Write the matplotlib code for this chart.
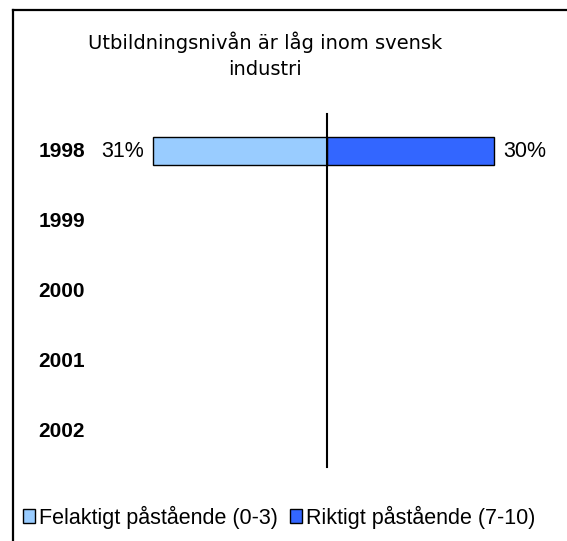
import matplotlib
matplotlib.use("Agg")
import matplotlib.pyplot as plt
from matplotlib.lines import Line2D
from matplotlib.patches import Patch

years = ["1998", "1999", "2000", "2001", "2002"]
wrong = [31.0, None, None, None, None]   # Felaktigt påstående (0-3)
right = [29.8, None, None, None, None]   # Riktigt påstående (7-10)
wrong_labels = ["31%", "", "", "", ""]
right_labels = ["30%", "", "", "", ""]

LIGHT = "#99CCFF"
DARK = "#3366FF"
W, H = 567, 541

fig = plt.figure(figsize=(W / 100, H / 100), dpi=100)
fig.patch.set_facecolor("white")

# axes placed in pixel terms: x 100..554, y 116..467 (from top)
ax = fig.add_axes([100 / W, 1 - 467 / H, 454 / W, 351 / H])
ax.set_xlim(-40.5, 40.5)
ax.set_ylim(len(years) - 0.5, -0.5)

for i, (lv, rv) in enumerate(zip(wrong, right)):
    if lv is not None:
        ax.barh(i, -lv, height=0.4, color=LIGHT, edgecolor="black", linewidth=1)
        ax.text(-lv - 1.6, i, wrong_labels[i], ha="right", va="center",
                fontsize=15.5, family="Liberation Sans")
    if rv is not None:
        ax.barh(i, rv, height=0.4, color=DARK, edgecolor="black", linewidth=1)
        ax.text(rv + 1.6, i, right_labels[i], ha="left", va="center",
                fontsize=15.5, family="Liberation Sans")

ax.plot([0, 0], [-0.53, len(years) - 0.5], color="black", linewidth=1.5,
        clip_on=False)

for i, y in enumerate(years):
    ax.text(-43.2, i, y, ha="right", va="center", fontsize=15,
            weight="bold", family="Liberation Sans")

ax.set_xticks([])
ax.set_yticks([])
for s in ax.spines.values():
    s.set_visible(False)
ax.patch.set_alpha(0)

# title
fig.text(265 / W, 1 - 55 / H, "Utbildningsnivån är låg inom svensk\nindustri",
         ha="center", va="center", fontsize=14, family="DejaVu Sans",
         linespacing=1.45)

# frame (left and top only, cropped)
fig.add_artist(Line2D([13 / W, 13 / W], [0, 1 - 10 / H], transform=fig.transFigure,
                      color="black", linewidth=1.6))
fig.add_artist(Line2D([13 / W, 1], [1 - 10 / H, 1 - 10 / H], transform=fig.transFigure,
                      color="black", linewidth=1.6))

# legend
handles = [Patch(facecolor=LIGHT, edgecolor="black", linewidth=1),
           Patch(facecolor=DARK, edgecolor="black", linewidth=1)]
fig.legend(handles, ["Felaktigt påstående (0-3)", "Riktigt påstående (7-10)"],
           loc="center left", bbox_to_anchor=(23 / W, 1 - 517 / H), ncol=2,
           frameon=False, prop={"family": "Liberation Sans", "size": 15.5},
           handlelength=0.56, handleheight=0.56, handletextpad=0.2,
           columnspacing=0.55, borderpad=0, borderaxespad=0)

fig.savefig("out.png", dpi=100, facecolor="white")
